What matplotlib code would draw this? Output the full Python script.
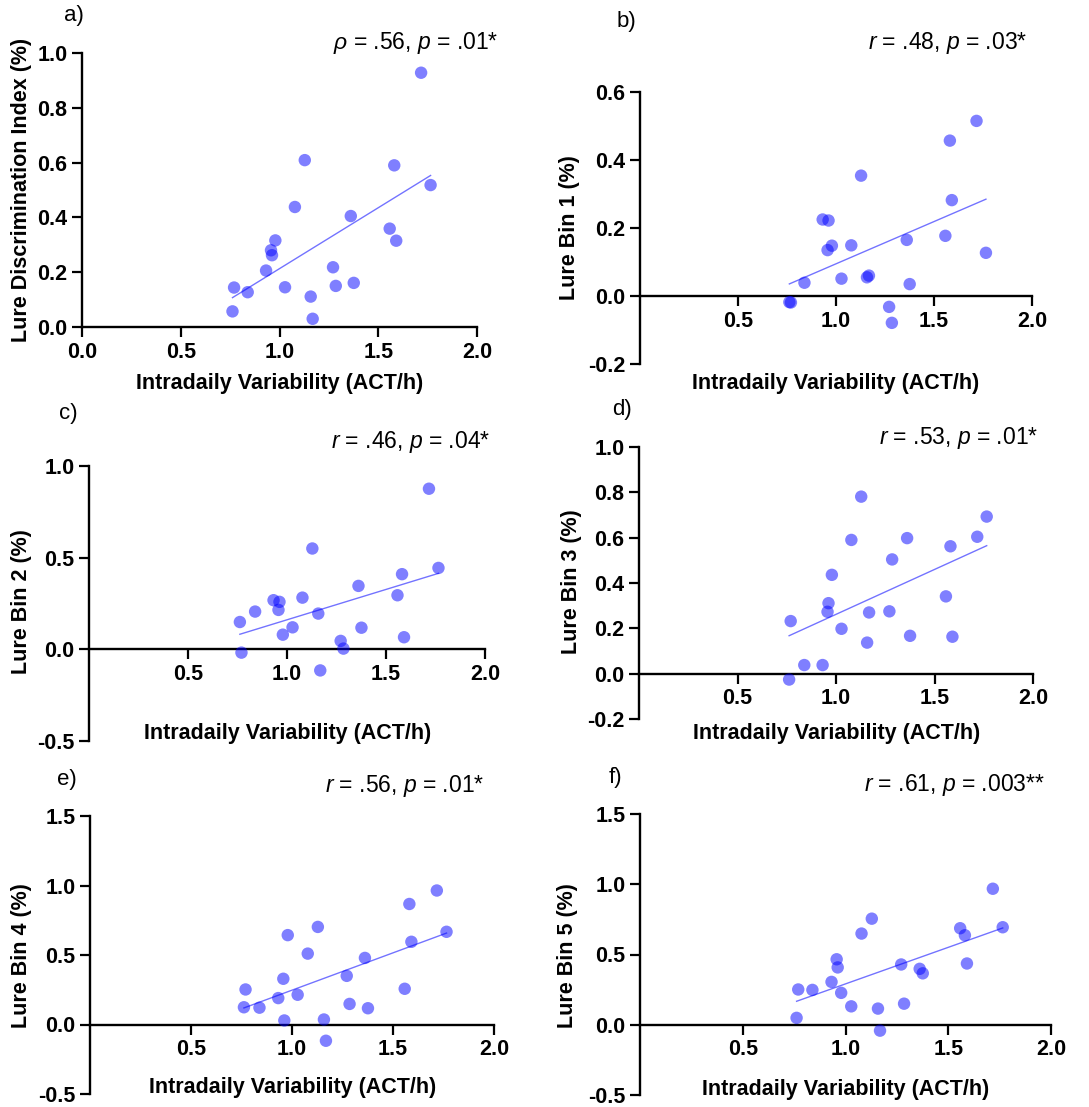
import numpy as np
import matplotlib
matplotlib.use("Agg")
import matplotlib.pyplot as plt

plt.rcParams['font.family'] = ['Liberation Sans', 'DejaVu Sans']
plt.rcParams['mathtext.fontset'] = 'custom'
plt.rcParams['mathtext.rm'] = 'Liberation Sans'
plt.rcParams['mathtext.it'] = 'Liberation Sans:italic'

# intradaily variability (same participants in every panel)
iv = [0.762, 0.770, 0.839, 0.932, 0.957, 0.962, 0.979, 1.028, 1.078, 1.128, 1.158,
      1.168, 1.271, 1.285, 1.361, 1.376, 1.558, 1.581, 1.591, 1.717, 1.765]

ldi = [0.057, 0.144, 0.127, 0.206, 0.280, 0.262, 0.316, 0.145, 0.438, 0.609, 0.111,
       0.030, 0.218, 0.150, 0.405, 0.161, 0.359, 0.590, 0.315, 0.928, 0.518]
bin1 = [-0.018, -0.019, 0.039, 0.225, 0.135, 0.222, 0.148, 0.051, 0.149, 0.354, 0.055,
        0.060, -0.032, -0.079, 0.165, 0.035, 0.177, 0.457, 0.282, 0.515, 0.127]
bin2 = [0.149, -0.018, 0.206, 0.268, 0.215, 0.259, 0.080, 0.120, 0.282, 0.550, 0.195,
        -0.115, 0.046, 0.004, 0.346, 0.118, 0.295, 0.410, 0.066, 0.876, 0.444]
bin3 = [-0.026, 0.232, 0.038, 0.038, 0.273, 0.311, 0.436, 0.198, 0.590, 0.781, 0.137,
        0.270, 0.275, 0.504, 0.598, 0.167, 0.341, 0.562, 0.163, 0.604, 0.693]
bin4 = [0.124, 0.252, 0.121, 0.190, 0.329, 0.029, 0.643, 0.214, 0.510, 0.702, 0.036,
        -0.117, 0.350, 0.148, 0.479, 0.117, 0.257, 0.867, 0.595, 0.964, 0.667]
bin5 = [0.049, 0.251, 0.248, 0.305, 0.466, 0.408, 0.227, 0.131, 0.649, 0.755, 0.115,
        -0.042, 0.429, 0.150, 0.398, 0.366, 0.687, 0.637, 0.436, 0.968, 0.694]

ylabels = ['Lure Discrimination Index (%)', 'Lure Bin 1 (%)', 'Lure Bin 2 (%)',
           'Lure Bin 3 (%)', 'Lure Bin 4 (%)', 'Lure Bin 5 (%)']
letters = ['a)', 'b)', 'c)', 'd)', 'e)', 'f)']
stats = [r'$\it{ρ}$ = .56, $\it{p}$ = .01*', r'$\it{r}$ = .48, $\it{p}$ = .03*',
         r'$\it{r}$ = .46, $\it{p}$ = .04*', r'$\it{r}$ = .53, $\it{p}$ = .01*',
         r'$\it{r}$ = .56, $\it{p}$ = .01*', r'$\it{r}$ = .61, $\it{p}$ = .003**']
ylims = [(0, 1.0), (-0.2, 0.6), (-0.5, 1.0), (-0.2, 1.0), (-0.5, 1.5), (-0.5, 1.5)]
ysteps = [0.2, 0.2, 0.5, 0.2, 0.5, 0.5]
series = [ldi, bin1, bin2, bin3, bin4, bin5]

W, H = 1089, 1107
fig = plt.figure(figsize=(W / 100, H / 100), dpi=100)

# axes boxes in pixels: left, right, top, bottom
boxes = [(82, 477, 53, 327), (640, 1032, 92, 364), (89, 485, 466, 741),
         (639, 1033, 447, 719), (90, 494, 816, 1094), (640, 1051, 814, 1095)]
# label positions in pixels
xlab_pos = [(280, 383), (836, 383), (288, 734), (837, 734), (293, 1087), (846, 1089)]
ylab_pos = [(22, 190), (570, 228), (22, 602), (571, 582), (22, 956), (568, 956)]
letter_pos = [(74, 15), (626, 22), (68, 413), (622, 410), (67, 780), (615, 777)]
stat_pos = [(498, 43), (1027, 43), (490, 442), (1038, 438), (484, 786), (1045, 785)]

x = np.array(iv)
for i in range(6):
    l, r, t, b = boxes[i]
    ax = fig.add_axes([l / W, 1 - b / H, (r - l) / W, (b - t) / H])
    y = np.array(series[i])
    ax.scatter(x, y, s=80, color='blue', alpha=0.5, edgecolors='none', zorder=3,
               clip_on=False)
    k, c = np.polyfit(x, y, 1)
    xx = np.array([x.min(), x.max()])
    ax.plot(xx, k * xx + c, color='blue', alpha=0.55, lw=1.0, zorder=2)

    ax.set_xlim(0, 2.0)
    ax.set_ylim(*ylims[i])
    ax.set_yticks(np.arange(ylims[i][0], ylims[i][1] + 1e-9, ysteps[i]))
    if i == 0:
        ax.set_xticks([0, 0.5, 1.0, 1.5, 2.0])
    else:
        ax.set_xticks([0.5, 1.0, 1.5, 2.0])
    ax.xaxis.set_major_formatter(matplotlib.ticker.FormatStrFormatter('%.1f'))
    ax.yaxis.set_major_formatter(matplotlib.ticker.FormatStrFormatter('%.1f'))
    for side in ['top', 'right']:
        ax.spines[side].set_visible(False)
    ax.spines['bottom'].set_position(('data', 0))
    for side in ['left', 'bottom']:
        ax.spines[side].set_linewidth(1.7)
    ax.tick_params(width=1.6, length=7.5, labelsize=15.5, pad=3)
    for lab in ax.get_xticklabels() + ax.get_yticklabels():
        lab.set_fontweight('bold')
    ax.patch.set_visible(False)

    fig.text(xlab_pos[i][0] / W, 1 - xlab_pos[i][1] / H, 'Intradaily Variability (ACT/h)',
             ha='center', va='center', fontsize=15.5, fontweight='bold')
    fig.text(ylab_pos[i][0] / W, 1 - ylab_pos[i][1] / H, ylabels[i], rotation=90,
             ha='center', va='center', fontsize=15.5, fontweight='bold')
    fig.text(letter_pos[i][0] / W, 1 - letter_pos[i][1] / H, letters[i],
             ha='center', va='center', fontsize=16)
    fig.text(stat_pos[i][0] / W, 1 - stat_pos[i][1] / H, stats[i],
             ha='right', va='center', fontsize=16.5)

fig.savefig('out.png', dpi=100)
